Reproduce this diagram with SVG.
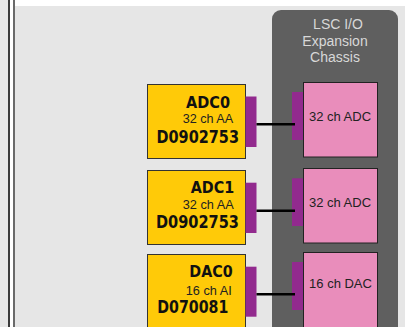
<svg xmlns="http://www.w3.org/2000/svg" width="405" height="327" viewBox="0 0 405 327">
<style>
.ybox{fill:#ffca08;stroke:#333;stroke-width:1}
.pbox{fill:#e98dbb;stroke:#222;stroke-width:1}
.port{fill:#922a8e}
.big{font-family:"DejaVu Sans",sans-serif;font-weight:bold;fill:#111}
.small{font-family:"Liberation Sans",Arial,sans-serif;font-size:12px;fill:#222}
.plabel{font-family:"Liberation Sans",Arial,sans-serif;font-size:13px;fill:#222;text-anchor:middle}
.chtitle{font-family:"Liberation Sans",Arial,sans-serif;font-size:14px;fill:#d8d8d8;text-anchor:middle}
.wire{stroke:#000;stroke-width:2.5;fill:none}
</style>
<rect x="0" y="0" width="405" height="327" fill="#e6e6e6"/>
<rect x="10" y="0" width="395" height="6" fill="#ffffff"/>
<rect x="10" y="0" width="3" height="327" fill="#ffffff"/>
<rect x="8" y="0" width="2" height="327" fill="#3a3a3a"/>
<rect x="13" y="0" width="2" height="327" fill="#6a6a6a"/>
<g id="chassis">
<rect x="272" y="10" width="126" height="330" rx="9" fill="#5f5f5f"/>
<text class="chtitle" x="338" y="29">LSC I/O</text>
<text class="chtitle" x="335" y="46">Expansion</text>
<text class="chtitle" x="335" y="62">Chassis</text>
</g>
<g id="adc0">
<rect class="ybox" x="147.5" y="84.5" width="98" height="74"/>
<rect class="port" x="245.5" y="96.5" width="11" height="50.5"/>
<text class="big" x="186" y="107.5" font-size="15" textLength="44" lengthAdjust="spacingAndGlyphs">ADC0</text>
<text class="small" x="182.7" y="122.5" textLength="50.5" lengthAdjust="spacingAndGlyphs">32 ch AA</text>
<text class="big" x="156.5" y="142.8" font-size="17" textLength="82.5" lengthAdjust="spacingAndGlyphs">D0902753</text>
</g>
<g id="adc1">
<rect class="ybox" x="147.5" y="170.5" width="98" height="74"/>
<rect class="port" x="245.5" y="182.7" width="11" height="50.3"/>
<text class="big" x="190.7" y="192.7" font-size="15" textLength="43.5" lengthAdjust="spacingAndGlyphs">ADC1</text>
<text class="small" x="182.7" y="209" textLength="51" lengthAdjust="spacingAndGlyphs">32 ch AA</text>
<text class="big" x="156" y="228.3" font-size="17" textLength="83" lengthAdjust="spacingAndGlyphs">D0902753</text>
</g>
<g id="dac0">
<rect class="ybox" x="147.5" y="254.5" width="98" height="80"/>
<rect class="port" x="245.5" y="266.7" width="11" height="50"/>
<text class="big" x="189.3" y="276.7" font-size="15" textLength="43.4" lengthAdjust="spacingAndGlyphs">DAC0</text>
<text class="small" x="185.7" y="295" textLength="46" lengthAdjust="spacingAndGlyphs">16 ch AI</text>
<text class="big" x="157.3" y="312.7" font-size="17" textLength="71" lengthAdjust="spacingAndGlyphs">D070081</text>
</g>
<g id="adc-card-1">
<rect class="port" x="292" y="92" width="11.5" height="48"/>
<rect class="pbox" x="303.5" y="82.5" width="74" height="74.5"/>
<text class="plabel" x="340" y="120.7">32 ch ADC</text>
</g>
<g id="adc-card-2">
<rect class="port" x="292" y="178.3" width="11.5" height="47.7"/>
<rect class="pbox" x="303.5" y="168.5" width="74" height="74.5"/>
<text class="plabel" x="340" y="206.7">32 ch ADC</text>
</g>
<g id="dac-card">
<rect class="port" x="292" y="262" width="11.5" height="48"/>
<rect class="pbox" x="303.5" y="252.5" width="74" height="80"/>
<text class="plabel" x="340.5" y="288.3">16 ch DAC</text>
</g>
<g id="connectors">
<line class="wire" x1="256.5" y1="124.3" x2="295" y2="124.3"/>
<line class="wire" x1="256.5" y1="210.7" x2="295" y2="210.7"/>
<line class="wire" x1="256.5" y1="294.3" x2="295" y2="294.3"/>
</g>
</svg>
